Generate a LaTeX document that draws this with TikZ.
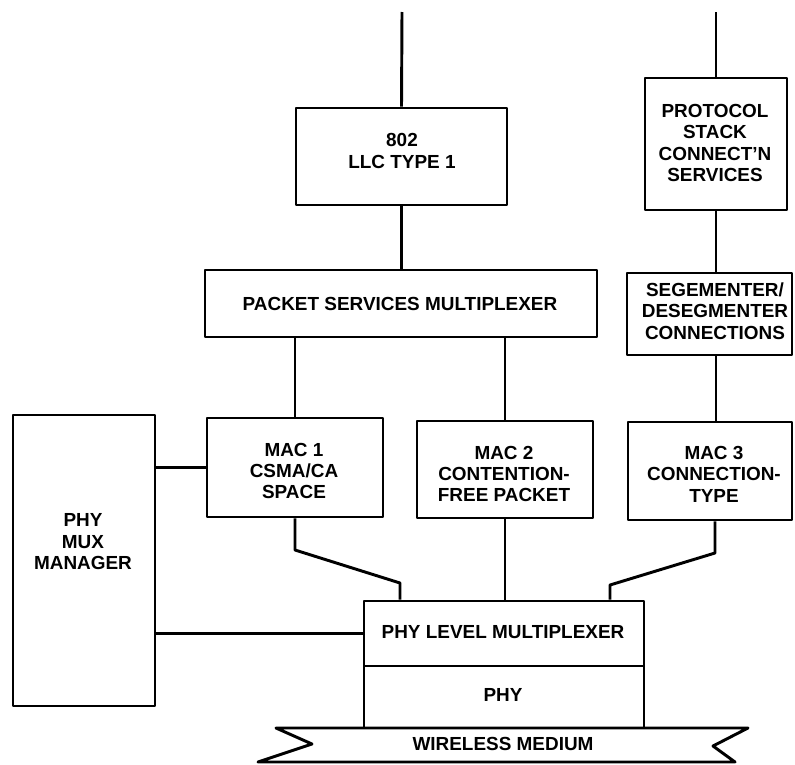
\documentclass[tikz,border=0pt]{standalone}
\usepackage{fontspec}
\setmainfont{Liberation Sans}
\usetikzlibrary{fit}
\begin{document}
\begin{tikzpicture}[x=0.75pt,y=-0.75pt, line width=2.2pt, line join=round,
  txt/.style={font=\bfseries\fontsize{14.2}{16.1}\selectfont},
  box/.style={draw, inner sep=0pt},
  lbl/.style={inner sep=0pt, align=center, txt}]
\useasboundingbox (0,0) rectangle (795,764);
% boxes
\node[box, fit={(296,108)(507,205)}] (llc) {};
\node[lbl] (llct) at (402,151) {802\\LLC TYPE 1};
\node[box, fit={(645,78)(787,210)}] (proto) {};
\node[lbl] (protot) at (715,143) {PROTOCOL\\STACK\\CONNECT'N\\SERVICES};
\node[box, fit={(205,270)(597,337)}] (psm) {};
\node[lbl] (psmt) at (400,304) {PACKET SERVICES MULTIPLEXER};
\node[box, fit={(627,273)(792,355)}] (seg) {};
\node[lbl] (segt) at (715,311) {SEGEMENTER/\\DESEGMENTER\\CONNECTIONS};
\node[box, fit={(207,418)(383,517)}] (mac1) {};
\node[lbl] (mac1t) at (294,471) {MAC 1\\CSMA/CA\\SPACE};
\node[box, fit={(417,421)(593,518)}] (mac2) {};
\node[lbl] (mac2t) at (504,474) {MAC 2\\CONTENTION-\\FREE PACKET};
\node[box, fit={(628,422)(792,520)}] (mac3) {};
\node[lbl] (mac3t) at (714,474) {MAC 3\\CONNECTION-\\TYPE};
\node[box, fit={(13,415)(155,706)}] (mgr) {};
\node[lbl] (mgrt) at (83,542) {PHY\\MUX\\MANAGER};
% banner
\draw (276,728) -- (748,728) -- (713,746) -- (735,762) -- (258,762) -- (312,744) -- cycle;
\node[lbl] (wm) at (503,744) {WIRELESS MEDIUM};
\node[box, fit={(364,601)(644,666)}] (plm) {};
\node[lbl] (plmt) at (503,632) {PHY LEVEL MULTIPLEXER};
\node[box, fit={(364,666)(644,728)}] (phy) {};
\node[lbl] (phyt) at (503,695) {PHY};
% connectors
\coordinate (t1) at (402,12);
\coordinate (t2) at (716,12);
\draw (t1) -- (llc.north);
\draw (t2) -- (proto.north);
\draw (llc.south) -- (psm.north -| llc.south);
\draw (proto.south) -- (seg.north -| proto.south);
\draw (seg.south -| proto.south) -- (mac3.north -| proto.south);
\draw (psm.south -| mac1.north) -- (mac1.north);
\draw (psm.south -| mac2.north) -- (mac2.north);
\draw (mgr.east |- mac1.west) -- (mac1.west);
\draw (mgr.east |- plm.west) -- (plm.west);
\coordinate (b1) at (295,550);
\coordinate (b2) at (400,583);
\draw (mac1.south) -- (b1) -- (b2) -- (plm.north -| b2);
\draw (mac2.south) -- (plm.north -| mac2.south);
\coordinate (b3) at (715,553);
\coordinate (b4) at (610,585);
\draw (mac3.south -| b3) -- (b3) -- (b4) -- (plm.north -| b4);
\end{tikzpicture}
\end{document}
